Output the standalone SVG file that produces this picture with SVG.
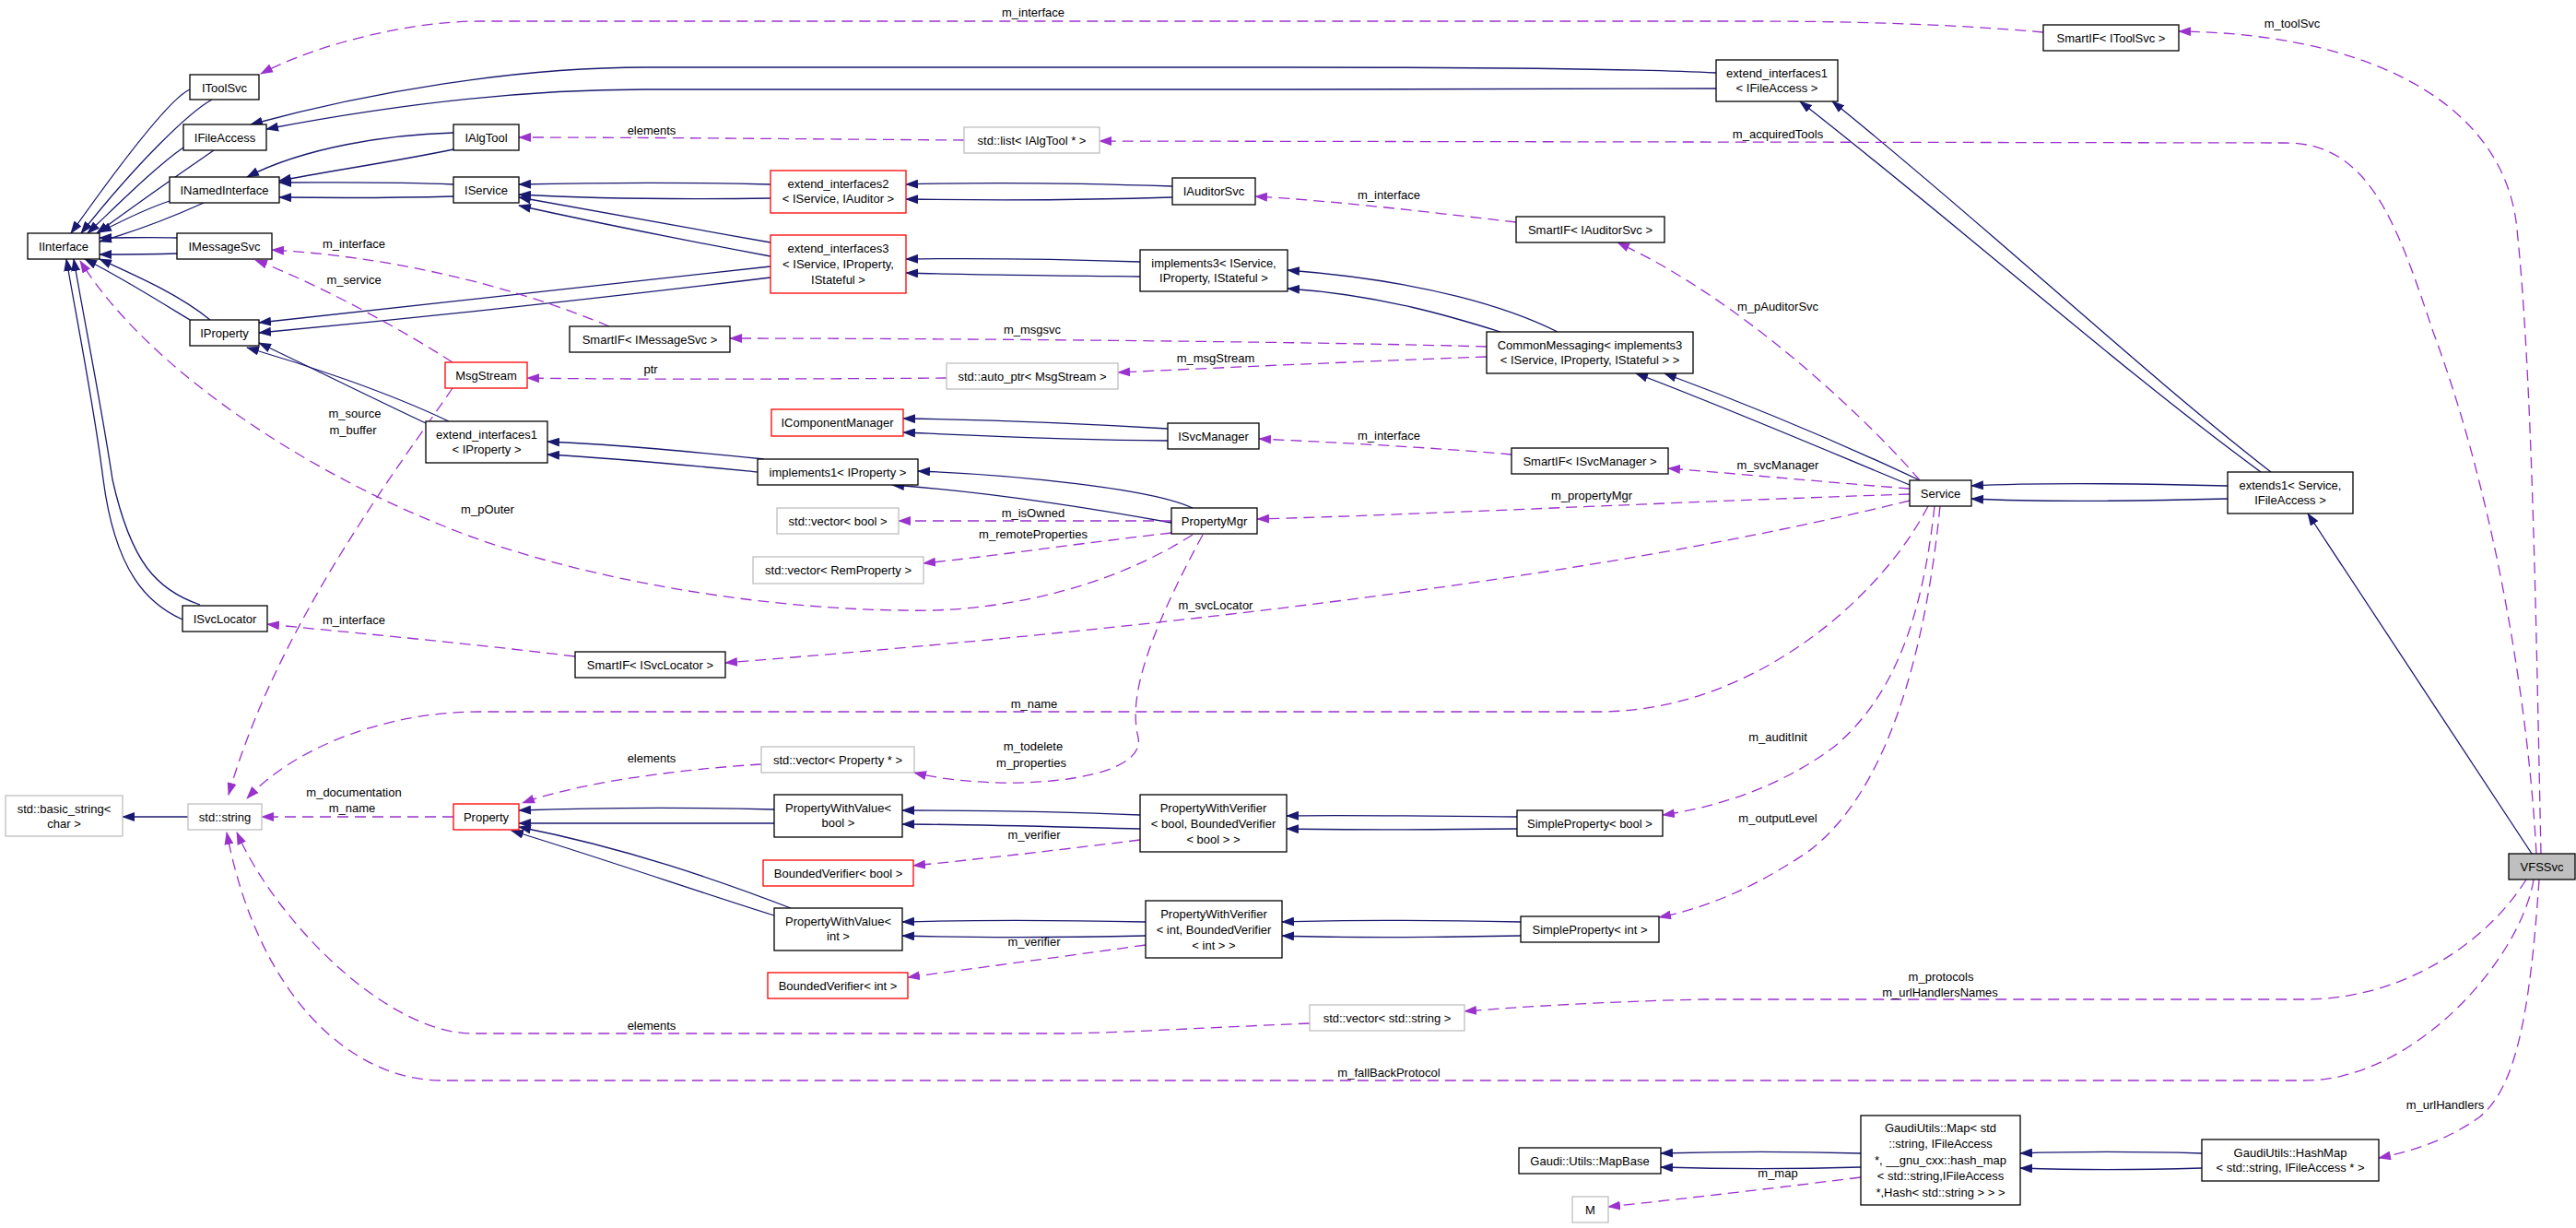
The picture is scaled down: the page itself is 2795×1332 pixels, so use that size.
<svg xmlns="http://www.w3.org/2000/svg" width="2795" height="1332" viewBox="0 0 2795 1332">
<style>
text{font-family:"Liberation Sans",Arial,sans-serif;font-size:13px;fill:#000;text-anchor:middle}
.n rect{fill:#fff;stroke:#000;stroke-width:1.3}
.r rect{stroke:#ff0000}
.g rect{stroke:#bfbfbf}
.v rect{fill:#bfbfbf}
.inh{fill:none;stroke:#191970;stroke-width:1.3;marker-end:url(#ah)}
.use{fill:none;stroke:#9a32cd;stroke-width:1.3;stroke-dasharray:12,7;marker-end:url(#ahd)}
</style>
<defs>
<marker id="ah" viewBox="0 0 14 10" markerWidth="14" markerHeight="10" refX="13" refY="5" orient="auto" markerUnits="userSpaceOnUse"><path d="M0,0 L14,5 L0,10 z" fill="#191970"/></marker>
<marker id="ahd" viewBox="0 0 14 10" markerWidth="14" markerHeight="10" refX="13" refY="5" orient="auto" markerUnits="userSpaceOnUse"><path d="M0,0 L14,5 L0,10 z" fill="#9a32cd"/></marker>
</defs>
<rect width="2795" height="1332" fill="#fff"/>
<g id="connectors">
<!-- inheritance -->
<path class="inh" d="M206,97 C190,104 150,150 77,253"/>
<path class="inh" d="M230,108 C205,122 150,175 88,253"/>
<path class="inh" d="M199,160 C170,180 130,220 95,253"/>
<path class="inh" d="M232,163 C200,185 150,220 105,253"/>
<path class="inh" d="M184,218 C160,226 135,238 108,252"/>
<path class="inh" d="M221,220 C190,234 150,250 108,262"/>
<path class="inh" d="M192,258 C160,257 140,258 108,258"/>
<path class="inh" d="M192,275 C160,276 140,276 108,276"/>
<path class="inh" d="M206,347 C170,325 130,300 92,281"/>
<path class="inh" d="M228,347 C195,320 150,300 108,281"/>
<path class="inh" d="M198,672 C160,655 125,620 112,520 C102,440 82,340 72,281"/>
<path class="inh" d="M217,656 C170,640 142,610 122,520 C110,440 90,340 80,281"/>
<path class="inh" d="M1862,79 C1800,76 1700,73 1400,73 L700,73 C560,73 400,100 272,135"/>
<path class="inh" d="M1862,96 C1800,97 1700,97 1400,97 L700,97 C560,97 420,115 289,140"/>
<path class="inh" d="M492,144 C420,146 330,160 268,192"/>
<path class="inh" d="M492,162 C430,175 360,185 303,196"/>
<path class="inh" d="M492,200 C420,197 380,198 303,198"/>
<path class="inh" d="M492,213 C420,215 380,215 303,214"/>
<path class="inh" d="M836,200 C760,198 650,198 563,200"/>
<path class="inh" d="M836,215 C760,216 650,216 563,211"/>
<path class="inh" d="M836,263 C740,246 640,228 563,214"/>
<path class="inh" d="M836,278 C740,260 640,240 563,223"/>
<path class="inh" d="M836,289 C640,312 450,333 281,350"/>
<path class="inh" d="M836,301 C640,325 450,345 281,361"/>
<path class="inh" d="M462,459 C400,430 330,395 281,372"/>
<path class="inh" d="M487,457 C420,425 330,395 268,377"/>
<path class="inh" d="M1272,202 C1150,198 1050,198 983,200"/>
<path class="inh" d="M1272,214 C1150,218 1050,217 983,216"/>
<path class="inh" d="M1237,284 C1150,281 1050,280 983,281"/>
<path class="inh" d="M1237,300 C1150,299 1050,298 983,296"/>
<path class="inh" d="M1690,360 C1640,335 1550,305 1397,293"/>
<path class="inh" d="M1628,360 C1580,345 1500,320 1397,313"/>
<path class="inh" d="M2072,526 C1980,488 1880,445 1775,405"/>
<path class="inh" d="M2083,521 C2000,482 1900,440 1806,405"/>
<path class="inh" d="M2453,512 C2300,400 2120,240 1953,110"/>
<path class="inh" d="M2464,512 C2320,400 2150,240 1988,110"/>
<path class="inh" d="M2417,527 C2300,524 2200,524 2139,527"/>
<path class="inh" d="M2417,541 C2300,544 2200,544 2139,541"/>
<path class="inh" d="M2747,926 L2504,557"/>
<path class="inh" d="M1267,465 C1150,458 1050,455 980,454"/>
<path class="inh" d="M1267,478 C1150,477 1050,472 980,469"/>
<path class="inh" d="M829,498 C750,490 680,483 594,479"/>
<path class="inh" d="M822,512 C750,505 680,498 594,493"/>
<path class="inh" d="M1294,551 C1250,530 1100,515 996,511"/>
<path class="inh" d="M1271,567 C1150,545 1050,532 968,526"/>
<path class="inh" d="M840,878 C760,876 650,876 563,879"/>
<path class="inh" d="M840,893 C760,893 650,893 563,893"/>
<path class="inh" d="M858,985 C780,955 680,920 563,897"/>
<path class="inh" d="M840,993 C760,968 650,930 555,901"/>
<path class="inh" d="M1237,884 C1150,880 1050,879 979,879"/>
<path class="inh" d="M1237,899 C1150,897 1050,894 979,894"/>
<path class="inh" d="M1243,1000 C1150,998 1050,998 979,1000"/>
<path class="inh" d="M1243,1015 C1150,1017 1050,1017 979,1015"/>
<path class="inh" d="M1646,886 C1550,885 1450,884 1396,885"/>
<path class="inh" d="M1646,899 C1550,900 1450,900 1396,899"/>
<path class="inh" d="M1650,1000 C1550,998 1450,998 1391,1000"/>
<path class="inh" d="M1650,1015 C1550,1017 1450,1017 1391,1015"/>
<path class="inh" d="M204,886 L133,886"/>
<path class="inh" d="M2019,1251 C1950,1249 1870,1249 1802,1251"/>
<path class="inh" d="M2019,1266 C1950,1268 1870,1268 1802,1266"/>
<path class="inh" d="M2389,1251 C2320,1249 2250,1249 2192,1251"/>
<path class="inh" d="M2389,1267 C2320,1269 2250,1269 2192,1267"/>
<!-- usage -->
<path class="use" d="M2217,35 C2150,29 2050,23 1900,23 L520,23 C440,23 340,50 283,80"/>
<path class="use" d="M2757,926 C2752,700 2748,400 2730,240 C2710,100 2550,36 2364,34"/>
<path class="use" d="M2752,926 C2742,740 2700,520 2640,360 C2600,240 2570,155 2480,155 L1193,153"/>
<path class="use" d="M1046,152 C900,151 700,149 563,149"/>
<path class="use" d="M1645,241 C1550,230 1450,218 1362,213"/>
<path class="use" d="M2083,521 C2040,470 1900,330 1755,263"/>
<path class="use" d="M661,354 C580,320 450,280 295,271"/>
<path class="use" d="M491,393 C440,360 350,310 277,282"/>
<path class="use" d="M1613,376 C1400,370 1000,367 792,367"/>
<path class="use" d="M1613,387 C1450,393 1300,400 1213,404"/>
<path class="use" d="M1027,410 C900,411 700,412 572,410"/>
<path class="use" d="M491,421 C430,510 300,680 248,862"/>
<path class="use" d="M1294,580 C1200,640 1080,665 979,662 C800,660 600,620 480,570 C330,510 160,400 87,283"/>
<path class="use" d="M1640,493 C1550,485 1450,480 1366,476"/>
<path class="use" d="M2072,530 C1980,523 1900,515 1810,508"/>
<path class="use" d="M2072,536 C1800,545 1550,558 1364,563"/>
<path class="use" d="M1271,565 L975,565"/>
<path class="use" d="M1271,578 C1150,592 1080,603 1002,611"/>
<path class="use" d="M2072,543 C1800,610 1400,670 787,719"/>
<path class="use" d="M624,712 C500,697 400,688 290,677"/>
<path class="use" d="M2092,549 C2040,650 1900,772 1735,772 L520,772 C420,772 320,810 268,866"/>
<path class="use" d="M1305,580 C1240,700 1225,760 1235,800 C1245,850 1080,860 992,838"/>
<path class="use" d="M826,829 C760,833 640,845 567,871"/>
<path class="use" d="M492,886 L284,886"/>
<path class="use" d="M1237,911 C1150,922 1060,932 991,939"/>
<path class="use" d="M1243,1025 C1150,1038 1060,1050 985,1060"/>
<path class="use" d="M2099,549 C2085,680 2050,760 1990,810 C1930,855 1860,876 1804,884"/>
<path class="use" d="M2105,549 C2090,700 2050,860 1960,925 C1900,965 1850,985 1800,995"/>
<path class="use" d="M2741,954 C2700,1020 2610,1084 2500,1084 L1850,1084 C1750,1086 1650,1092 1589,1097"/>
<path class="use" d="M2749,954 C2735,1040 2620,1172 2500,1172 L480,1172 C380,1172 280,1080 246,903"/>
<path class="use" d="M1421,1110 C1300,1115 1200,1121 1150,1121 L513,1121 C420,1121 300,1000 257,903"/>
<path class="use" d="M2755,954 C2745,1100 2730,1180 2690,1212 C2650,1240 2610,1250 2581,1256"/>
<path class="use" d="M2019,1277 C1900,1292 1800,1303 1745,1309"/>
<!-- labels -->
<text x="1121" y="17.5">m_interface</text>
<text x="2487" y="29.5">m_toolSvc</text>
<text x="707" y="145.5">elements</text>
<text x="1929" y="149.5">m_acquiredTools</text>
<text x="1507" y="215.5">m_interface</text>
<text x="384" y="268.5">m_interface</text>
<text x="384" y="307.5">m_service</text>
<text x="1929" y="336.5">m_pAuditorSvc</text>
<text x="1120" y="361.5">m_msgsvc</text>
<text x="1319" y="392.5">m_msgStream</text>
<text x="706" y="404.5">ptr</text>
<text x="385" y="452.5">m_source</text>
<text x="383" y="470.5">m_buffer</text>
<text x="1507" y="476.5">m_interface</text>
<text x="1929" y="508.5">m_svcManager</text>
<text x="1727" y="541.5">m_propertyMgr</text>
<text x="529" y="556.5">m_pOuter</text>
<text x="1121" y="560.5">m_isOwned</text>
<text x="1121" y="583.5">m_remoteProperties</text>
<text x="1319" y="660.5">m_svcLocator</text>
<text x="384" y="676.5">m_interface</text>
<text x="1122" y="767.5">m_name</text>
<text x="1929" y="803.5">m_auditInit</text>
<text x="1121" y="813.5">m_todelete</text>
<text x="707" y="826.5">elements</text>
<text x="1119" y="831.5">m_properties</text>
<text x="384" y="863.5">m_documentation</text>
<text x="382" y="880.5">m_name</text>
<text x="1929" y="891.5">m_outputLevel</text>
<text x="1122" y="909.5">m_verifier</text>
<text x="1122" y="1025.5">m_verifier</text>
<text x="2106" y="1063.5">m_protocols</text>
<text x="2105" y="1080.5">m_urlHandlersNames</text>
<text x="707" y="1116.5">elements</text>
<text x="1507" y="1167.5">m_fallBackProtocol</text>
<text x="2653" y="1202.5">m_urlHandlers</text>
<text x="1929" y="1276.5">m_map</text>
</g>
<g id="IToolSvc" class="n"><rect x="206" y="81" width="75" height="27"/><text x="243.5" y="100">IToolSvc</text></g>
<g id="IFileAccess" class="n"><rect x="199" y="135" width="90" height="28"/><text x="244" y="154">IFileAccess</text></g>
<g id="IAlgTool" class="n"><rect x="492" y="135" width="71" height="28"/><text x="527.5" y="154">IAlgTool</text></g>
<g id="INamedInterface" class="n"><rect x="184" y="192" width="119" height="28"/><text x="243.5" y="211">INamedInterface</text></g>
<g id="IService" class="n"><rect x="492" y="192" width="71" height="28"/><text x="527.5" y="211">IService</text></g>
<g id="IInterface" class="n"><rect x="30" y="253" width="78" height="28"/><text x="69" y="272">IInterface</text></g>
<g id="IMessageSvc" class="n"><rect x="192" y="253" width="103" height="28"/><text x="243.5" y="272">IMessageSvc</text></g>
<g id="IProperty" class="n"><rect x="206" y="347" width="75" height="28"/><text x="243.5" y="366">IProperty</text></g>
<g id="MsgStream" class="n r"><rect x="483" y="393" width="89" height="28"/><text x="527.5" y="412">MsgStream</text></g>
<g id="SmartIF_IMessageSvc" class="n"><rect x="618" y="354" width="174" height="28"/><text x="705" y="373">SmartIF&lt; IMessageSvc &gt;</text></g>
<g id="list_IAlgTool" class="n g"><rect x="1046" y="138" width="147" height="28"/><text x="1119.5" y="157">std::list&lt; IAlgTool * &gt;</text></g>
<g id="extend_interfaces2" class="n r"><rect x="836" y="185" width="147" height="46"/><text x="909.5" y="204">extend_interfaces2</text><text x="909.5" y="220">&lt; IService, IAuditor &gt;</text></g>
<g id="IAuditorSvc" class="n"><rect x="1272" y="193" width="90" height="29"/><text x="1317" y="212">IAuditorSvc</text></g>
<g id="extend_interfaces3" class="n r"><rect x="836" y="255" width="147" height="63"/><text x="909.5" y="274">extend_interfaces3</text><text x="909.5" y="291">&lt; IService, IProperty,</text><text x="909.5" y="308">IStateful &gt;</text></g>
<g id="implements3" class="n"><rect x="1237" y="271" width="160" height="45"/><text x="1317" y="290">implements3&lt; IService,</text><text x="1317" y="306">IProperty, IStateful &gt;</text></g>
<g id="auto_ptr_MsgStream" class="n g"><rect x="1027" y="394" width="186" height="28"/><text x="1120" y="413">std::auto_ptr&lt; MsgStream &gt;</text></g>
<g id="extend_interfaces1_IFileAccess" class="n"><rect x="1862" y="65" width="132" height="45"/><text x="1928" y="84">extend_interfaces1</text><text x="1928" y="100">&lt; IFileAccess &gt;</text></g>
<g id="SmartIF_IAuditorSvc" class="n"><rect x="1645" y="235" width="161" height="28"/><text x="1725.5" y="254">SmartIF&lt; IAuditorSvc &gt;</text></g>
<g id="CommonMessaging" class="n"><rect x="1613" y="360" width="224" height="45"/><text x="1725" y="379">CommonMessaging&lt; implements3</text><text x="1725" y="395">&lt; IService, IProperty, IStateful &gt; &gt;</text></g>
<g id="SmartIF_IToolSvc" class="n"><rect x="2217" y="27" width="147" height="28"/><text x="2290.5" y="46">SmartIF&lt; IToolSvc &gt;</text></g>
<g id="extend_interfaces1_IProperty" class="n"><rect x="462" y="457" width="132" height="45"/><text x="528" y="476">extend_interfaces1</text><text x="528" y="492">&lt; IProperty &gt;</text></g>
<g id="ISvcLocator" class="n"><rect x="198" y="657" width="92" height="28"/><text x="244" y="676">ISvcLocator</text></g>
<g id="SmartIF_ISvcLocator" class="n"><rect x="624" y="707" width="163" height="28"/><text x="705.5" y="726">SmartIF&lt; ISvcLocator &gt;</text></g>
<g id="basic_string" class="n g"><rect x="6" y="863" width="127" height="44"/><text x="69.5" y="882">std::basic_string&lt;</text><text x="69.5" y="898">char &gt;</text></g>
<g id="std_string" class="n g"><rect x="204" y="872" width="80" height="28"/><text x="244" y="891">std::string</text></g>
<g id="Property" class="n r"><rect x="492" y="872" width="71" height="28"/><text x="527.5" y="891">Property</text></g>
<g id="IComponentManager" class="n r"><rect x="837" y="444" width="143" height="29"/><text x="908.5" y="463">IComponentManager</text></g>
<g id="ISvcManager" class="n"><rect x="1267" y="459" width="99" height="28"/><text x="1316.5" y="478">ISvcManager</text></g>
<g id="implements1_IProperty" class="n"><rect x="822" y="498" width="174" height="28"/><text x="909" y="517">implements1&lt; IProperty &gt;</text></g>
<g id="PropertyMgr" class="n"><rect x="1271" y="551" width="93" height="28"/><text x="1317.5" y="570">PropertyMgr</text></g>
<g id="vector_bool" class="n g"><rect x="843" y="551" width="132" height="28"/><text x="909" y="570">std::vector&lt; bool &gt;</text></g>
<g id="vector_RemProperty" class="n g"><rect x="817" y="604" width="185" height="29"/><text x="909.5" y="623">std::vector&lt; RemProperty &gt;</text></g>
<g id="vector_Property" class="n g"><rect x="826" y="810" width="166" height="28"/><text x="909" y="829">std::vector&lt; Property * &gt;</text></g>
<g id="PWV_bool" class="n"><rect x="840" y="862" width="139" height="46"/><text x="909.5" y="881">PropertyWithValue&lt;</text><text x="909.5" y="897">bool &gt;</text></g>
<g id="PWVerifier_bool" class="n"><rect x="1237" y="862" width="159" height="62"/><text x="1316.5" y="881">PropertyWithVerifier</text><text x="1316.5" y="898">&lt; bool, BoundedVerifier</text><text x="1316.5" y="915">&lt; bool &gt; &gt;</text></g>
<g id="SmartIF_ISvcManager" class="n"><rect x="1640" y="486" width="170" height="28"/><text x="1725" y="505">SmartIF&lt; ISvcManager &gt;</text></g>
<g id="Service" class="n"><rect x="2072" y="521" width="67" height="28"/><text x="2105.5" y="540">Service</text></g>
<g id="SimpleProperty_bool" class="n"><rect x="1646" y="879" width="158" height="28"/><text x="1725" y="898">SimpleProperty&lt; bool &gt;</text></g>
<g id="extends1" class="n"><rect x="2417" y="512" width="136" height="45"/><text x="2485" y="531">extends1&lt; Service,</text><text x="2485" y="547">IFileAccess &gt;</text></g>
<g id="BoundedVerifier_bool" class="n r"><rect x="828" y="933" width="163" height="28"/><text x="909.5" y="952">BoundedVerifier&lt; bool &gt;</text></g>
<g id="PWV_int" class="n"><rect x="840" y="985" width="139" height="46"/><text x="909.5" y="1004">PropertyWithValue&lt;</text><text x="909.5" y="1020">int &gt;</text></g>
<g id="PWVerifier_int" class="n"><rect x="1243" y="977" width="148" height="62"/><text x="1317" y="996">PropertyWithVerifier</text><text x="1317" y="1013">&lt; int, BoundedVerifier</text><text x="1317" y="1030">&lt; int &gt; &gt;</text></g>
<g id="BoundedVerifier_int" class="n r"><rect x="833" y="1055" width="152" height="28"/><text x="909" y="1074">BoundedVerifier&lt; int &gt;</text></g>
<g id="SimpleProperty_int" class="n"><rect x="1650" y="994" width="150" height="28"/><text x="1725" y="1013">SimpleProperty&lt; int &gt;</text></g>
<g id="vector_string" class="n g"><rect x="1421" y="1090" width="168" height="28"/><text x="1505" y="1109">std::vector&lt; std::string &gt;</text></g>
<g id="MapBase" class="n"><rect x="1648" y="1245" width="154" height="28"/><text x="1725" y="1264">Gaudi::Utils::MapBase</text></g>
<g id="M" class="n g"><rect x="1706" y="1298" width="39" height="28"/><text x="1725.5" y="1317">M</text></g>
<g id="GaudiUtils_Map" class="n"><rect x="2019" y="1210" width="173" height="97"/><text x="2105.5" y="1228">GaudiUtils::Map&lt; std</text><text x="2105.5" y="1245">::string, IFileAccess</text><text x="2105.5" y="1263">*, __gnu_cxx::hash_map</text><text x="2105.5" y="1280">&lt; std::string,IFileAccess</text><text x="2105.5" y="1298">*,Hash&lt; std::string &gt; &gt; &gt;</text></g>
<g id="GaudiUtils_HashMap" class="n"><rect x="2389" y="1236" width="192" height="45"/><text x="2485" y="1255">GaudiUtils::HashMap</text><text x="2485" y="1271">&lt; std::string, IFileAccess * &gt;</text></g>
<g id="VFSSvc" class="n v"><rect x="2722" y="926" width="72" height="28"/><text x="2758" y="945">VFSSvc</text></g>
</svg>
